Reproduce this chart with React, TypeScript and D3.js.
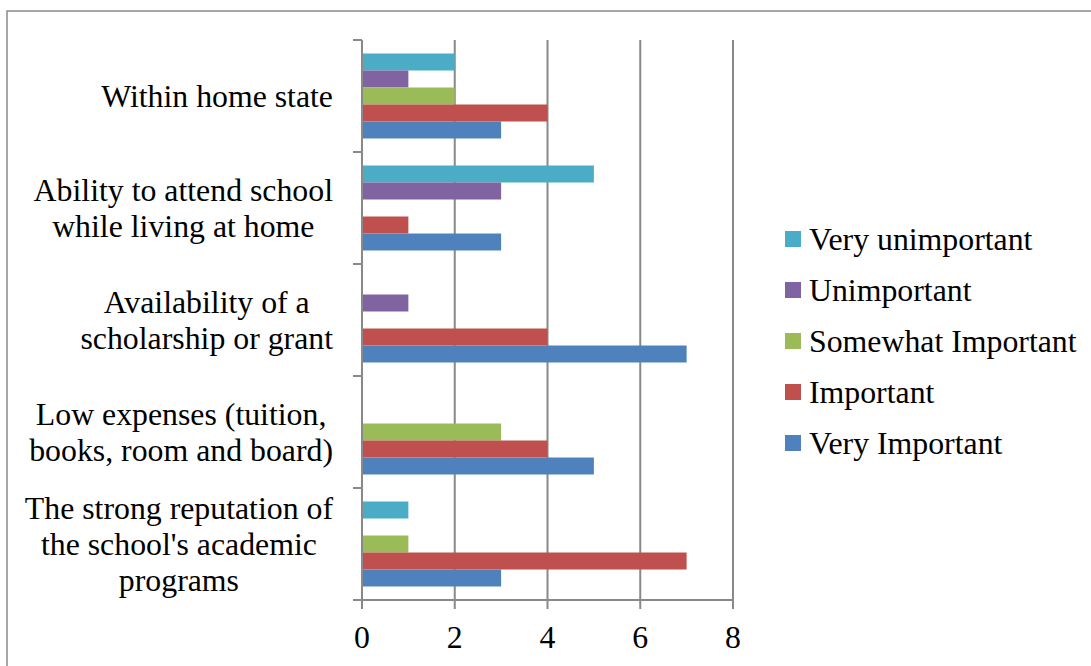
import { useMemo } from 'react'
import * as d3 from 'd3'

const WIDTH = 1091
const HEIGHT = 666
const FONT = '"Liberation Serif", "Times New Roman", serif'
const FONT_SIZE = 31.8

// categories, top to bottom
const CATEGORIES = [
  ['Within home state'],
  ['Ability to attend school', 'while living at home'],
  ['Availability of a', 'scholarship or grant'],
  ['Low expenses (tuition,', 'books, room and board)'],
  ["The strong reputation of", "the school's academic", 'programs'],
]

// series, listed top to bottom within a group
const SERIES = ['Very unimportant', 'Unimportant', 'Somewhat Important', 'Important', 'Very Important']
const COLORS = ['#4BACC6', '#8064A2', '#9BBB59', '#C0504D', '#4F81BD']

const VERY_UNIMPORTANT = [2, 5, 0, 0, 1]
const UNIMPORTANT = [1, 3, 1, 0, 0]
const SOMEWHAT_IMPORTANT = [2, 0, 0, 3, 1]
const IMPORTANT = [4, 1, 4, 4, 7]
const VERY_IMPORTANT = [3, 3, 7, 5, 3]

const VALUES = [VERY_UNIMPORTANT, UNIMPORTANT, SOMEWHAT_IMPORTANT, IMPORTANT, VERY_IMPORTANT]
const X_TICKS = [0, 2, 4, 6, 8]

// legend order (top to bottom)
const LEGEND = ['Very unimportant', 'Unimportant', 'Somewhat Important', 'Important', 'Very Important']

const AXIS_GRAY = '#898989'

function measure(text: string) {
  const ctx = document.createElement('canvas').getContext('2d')
  if (!ctx) return text.length * FONT_SIZE * 0.45
  ctx.font = `${FONT_SIZE}px ${FONT}`
  return ctx.measureText(text).width
}

export default function App() {
  const plot = { left: 362, right: 733, top: 40, bottom: 600 }

  const xScale = d3.scaleLinear().domain([0, 8]).range([plot.left, plot.right])

  const yScale = d3.scaleBand<number>()
    .domain(d3.range(CATEGORIES.length))
    .range([plot.top, plot.bottom])

  const band = yScale.bandwidth()
  const pad = (band - 85) / 2
  const inner = d3.scaleBand<number>()
    .domain(d3.range(SERIES.length))
    .range([pad, band - pad])

  const labelWidths = useMemo(
    () => CATEGORIES.map(lines => d3.max(lines, l => measure(l)) as number),
    []
  )

  const lineH = 36
  const labelRight = 333

  return (
    <svg
      width={WIDTH}
      height={HEIGHT}
      style={{ position: 'absolute', left: 0, top: 0, background: '#fff' }}
      fontFamily={FONT}
    >
      <rect x={7} y={11} width={WIDTH} height={HEIGHT} fill="none" stroke={AXIS_GRAY} strokeWidth={1.5} />

      {/* vertical gridlines */}
      {X_TICKS.map(t => (
        <line
          key={`g-${t}`}
          x1={xScale(t)}
          x2={xScale(t)}
          y1={t === 0 ? plot.bottom : plot.top}
          y2={plot.bottom + 9}
          stroke={AXIS_GRAY}
          strokeWidth={2}
        />
      ))}

      {/* bars */}
      {CATEGORIES.map((_, ci) => (
        <g key={`c-${ci}`} transform={`translate(0, ${yScale(ci)})`}>
          {SERIES.map((s, si) => {
            const v = VALUES[si][ci]
            if (!v) return null
            return (
              <rect
                key={s}
                x={xScale(0)}
                y={inner(si)}
                width={xScale(v) - xScale(0)}
                height={inner.bandwidth()}
                fill={COLORS[si]}
              />
            )
          })}
        </g>
      ))}

      {/* y axis */}
      <line x1={plot.left} x2={plot.left} y1={plot.top} y2={plot.bottom} stroke={AXIS_GRAY} strokeWidth={2} />
      {d3.range(CATEGORIES.length + 1).map(i => {
        const y = plot.top + i * band
        return (
          <line key={`yt-${i}`} x1={plot.left - 9} x2={plot.left} y1={y} y2={y} stroke={AXIS_GRAY} strokeWidth={2} />
        )
      })}

      {/* x axis */}
      <line x1={plot.left - 9} x2={plot.right} y1={plot.bottom} y2={plot.bottom} stroke={AXIS_GRAY} strokeWidth={2} />
      {X_TICKS.map(t => (
        <text key={`xl-${t}`} x={xScale(t)} y={648} fontSize={FONT_SIZE} textAnchor="middle" fill="#000">
          {t}
        </text>
      ))}

      {/* category labels */}
      {CATEGORIES.map((lines, ci) => {
        const cy = (yScale(ci) as number) + band / 2
        const cx = labelRight - labelWidths[ci] / 2
        return (
          <text key={`cl-${ci}`} fontSize={FONT_SIZE} textAnchor="middle" fill="#000">
            {lines.map((l, li) => (
              <tspan key={li} x={cx} y={cy + (li - (lines.length - 1) / 2) * lineH + 11}>
                {l}
              </tspan>
            ))}
          </text>
        )
      })}

      {/* legend */}
      {LEGEND.map((name, i) => {
        const si = SERIES.indexOf(name)
        const y = 239 + i * 51
        return (
          <g key={name}>
            <rect x={785} y={y - 8} width={16} height={16} fill={COLORS[si]} />
            <text x={809} y={y + 11} fontSize={FONT_SIZE} fill="#000">{name}</text>
          </g>
        )
      })}
    </svg>
  )
}
